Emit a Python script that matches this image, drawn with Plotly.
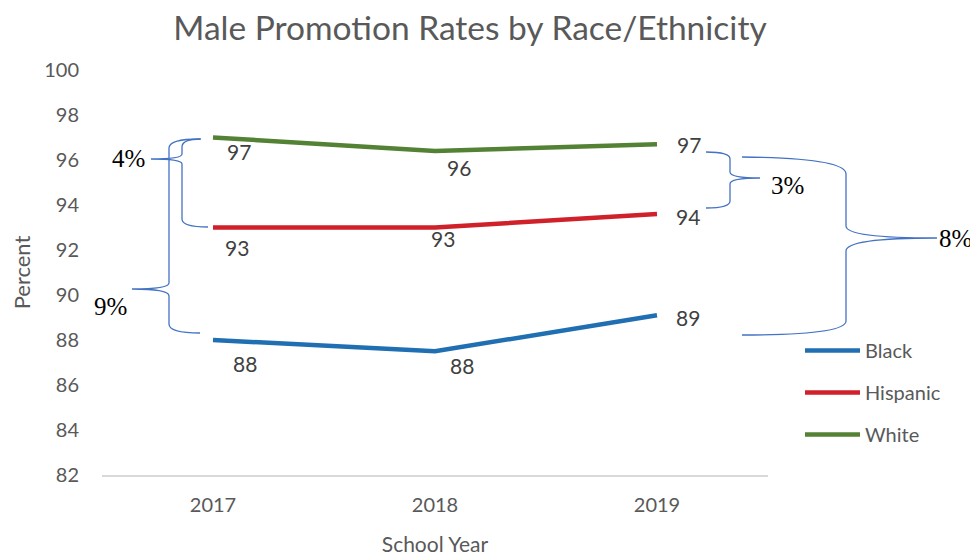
import plotly.graph_objects as go

# ---------------- data ----------------
years = ["2017", "2018", "2019"]
black = [88.0, 87.5, 89.1]
hispanic = [93.0, 93.0, 93.6]
white = [97.0, 96.4, 96.7]
series_names = ["Black", "Hispanic", "White"]
y_tick_values = [82, 84, 86, 88, 90, 92, 94, 96, 98, 100]
gap_labels = ["4%", "9%", "3%", "8%"]

# ---------------- styles ----------------
FONT = "Lato"
GREY = "#595959"
colors = {"Black": "#1F6FB2", "Hispanic": "#D0202A", "White": "#548235"}
BRACE = "#4472C4"

OFF = 8                      # page body margin
W, H = 978 - OFF, 557 - OFF
# plot area in reference-page pixels
L, R, T, B = 102, 768, 70, 475

def px(x, y):
    return (x - L) / (R - L), (B - y) / (B - T)

# data label offsets in pixels (dx right, dy down)
label_offsets = {
    "White": [(26, 14), (24, 16), (32, 0)],
    "Hispanic": [(24, 20), (8, 11), (31, 2)],
    "Black": [(32, 23), (27, 14), (31, 2)],
}

fig = go.Figure()
series = {"Black": black, "Hispanic": hispanic, "White": white}
for name in series_names:
    fig.add_trace(go.Scatter(
        x=years, y=series[name], mode="lines", name=name,
        legendgroup=name,
        line=dict(color=colors[name], width=4.5),
        hoverinfo="x+y+name",
    ))

annotations = []
for name in series_names:
    for i, v in enumerate(series[name]):
        dx, dy = label_offsets[name][i]
        annotations.append(dict(
            x=i, y=v, xref="x", yref="y", text=f"{v:.0f}", showarrow=False,
            xshift=dx, yshift=-dy, xanchor="center", yanchor="middle",
            font=dict(family=FONT, size=21, color="#404040"),
        ))

# brace shapes (pixel paths converted to paper coords)
def path_from(cmds):
    out = []
    for c in cmds:
        op = c[0]
        coords = []
        for (x, y) in c[1:]:
            xp, yp = px(x, y)
            coords.append(f"{xp:.5f},{yp:.5f}")
        out.append(op + " ".join(coords))
    return " ".join(out)

braces = [
    # 4% (White vs Hispanic, 2017)
    [("M", (201, 139)), ("Q", (182, 139), (182, 147)), ("L", (182, 154)),
     ("Q", (182, 159), (151, 159)), ("Q", (182, 159), (182, 164)),
     ("L", (182, 219)), ("Q", (182, 227), (208, 227))],
    # 9% (White vs Black, 2017)
    [("M", (200, 139)), ("Q", (169, 139), (169, 148)), ("L", (169, 283)),
     ("Q", (169, 289), (132, 289)), ("Q", (169, 289), (169, 296)),
     ("L", (169, 324)), ("Q", (169, 333), (200, 333))],
    # 3% (White vs Hispanic, 2019)
    [("M", (706, 152)), ("Q", (730, 152), (730, 159)), ("L", (730, 172)),
     ("Q", (730, 178), (760, 178)), ("Q", (730, 178), (730, 184)),
     ("L", (730, 201)), ("Q", (730, 208), (706, 208))],
    # 8% (White vs Black, 2019)
    [("M", (742, 157)), ("Q", (846, 158), (846, 174)), ("L", (846, 226)),
     ("Q", (846, 238), (937, 238)), ("Q", (846, 238), (846, 251)),
     ("L", (846, 321)), ("Q", (846, 335), (742, 335))],
]
shapes = [dict(type="path", xref="paper", yref="paper", path=path_from(b),
               line=dict(color=BRACE, width=1.3)) for b in braces]

gap_positions = [(128, 158), (110, 306), (787, 185), (955, 238)]
for text, (gx, gy) in zip(gap_labels, gap_positions):
    xp, yp = px(gx, gy)
    annotations.append(dict(
        x=xp, y=yp, xref="paper", yref="paper", text=text, showarrow=False,
        xanchor="center", yanchor="middle",
        font=dict(family="Liberation Serif", size=25, color="#000000"),
    ))

fig.update_layout(
    width=W, height=H,
    margin=dict(l=L - OFF, r=W - (R - OFF), t=T - OFF, b=H - (B - OFF),
                autoexpand=False),
    paper_bgcolor="white", plot_bgcolor="white",
    font=dict(family=FONT, color=GREY, size=21),
    title=dict(text="Male Promotion Rates by Race/Ethnicity",
               x=(470 - OFF) / W, y=1 - (28 - OFF) / H, yref="container",
               xanchor="center", yanchor="middle", pad=dict(t=0, b=0),
               font=dict(family=FONT, size=33.5, color=GREY)),
    xaxis=dict(type="category", range=[-0.5, 2.5], showgrid=False,
               showline=True, linecolor="#D9D9D9", linewidth=2,
               ticks="", ticklabelstandoff=11,
               tickfont=dict(family=FONT, size=20, color=GREY),
               title=dict(text="School Year", standoff=22,
                          font=dict(family=FONT, size=21, color=GREY)),
               zeroline=False, fixedrange=True),
    yaxis=dict(range=[82, 100], tickvals=y_tick_values, showgrid=False,
               showline=False, zeroline=False, ticks="",
               ticklabelstandoff=22,
               tickfont=dict(family=FONT, size=20, color=GREY),
               title=dict(text="Percent", standoff=12,
                          font=dict(family=FONT, size=22, color=GREY)),
               fixedrange=True),
    legend=dict(x=px(800, 0)[0], y=px(0, 331)[1], xanchor="left", yanchor="top",
                font=dict(family=FONT, size=20, color=GREY),
                tracegroupgap=13, itemwidth=55, bgcolor="rgba(0,0,0,0)"),
    shapes=shapes,
    annotations=annotations,
)

fig.write_html("out.html")
